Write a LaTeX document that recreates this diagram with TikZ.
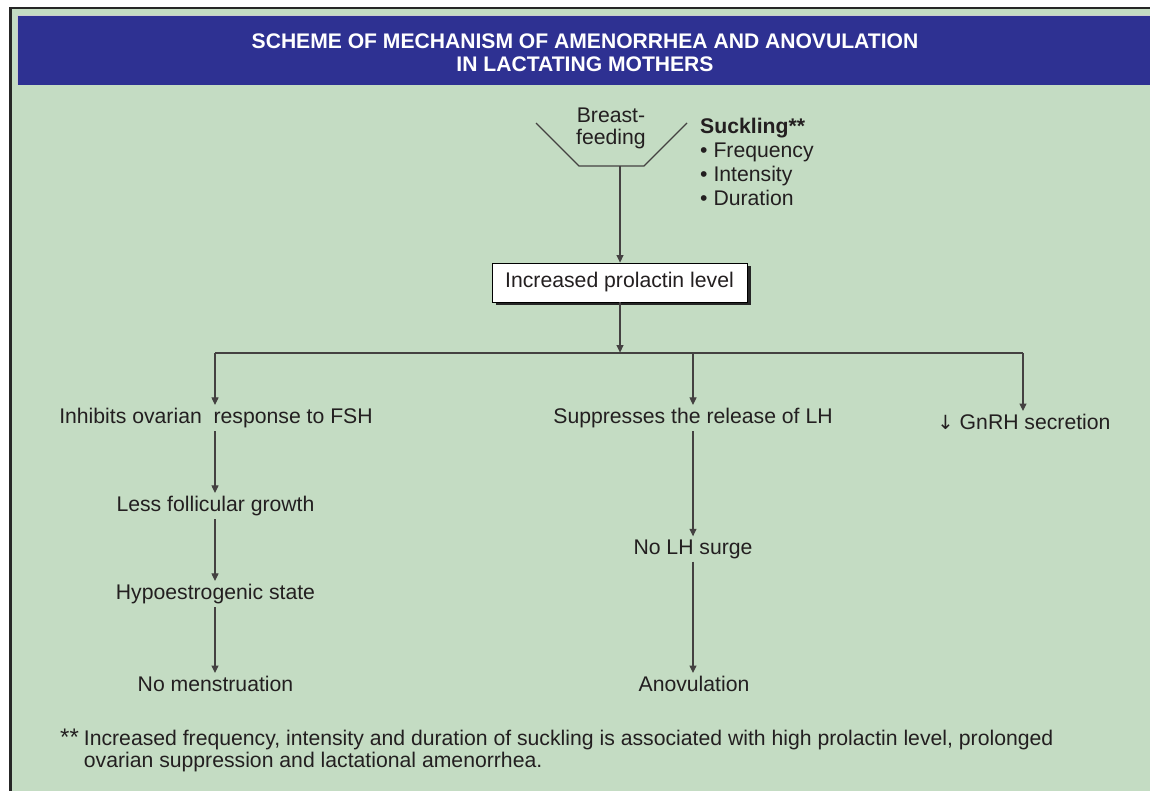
\documentclass[tikz,border=0pt]{standalone}
\usepackage{fontspec}
\setmainfont{Liberation Sans}
\newfontfamily\symfont{DejaVu Sans}
\usetikzlibrary{arrows.meta,shadows}
\definecolor{bggreen}{HTML}{C4DCC3}
\definecolor{hdrblue}{HTML}{2E3192}
\definecolor{ink}{HTML}{231F20}
\tikzset{
  txt/.style={text=ink,font=\fontsize{21.2}{23}\selectfont,inner sep=3pt,align=center},
  arr/.style={draw=ink!85,line width=1.1pt,-{Triangle[length=7.5pt,width=7pt]}},
  ln/.style={draw=ink!85,line width=1.1pt},
  pbox/.style={txt,draw=black,line width=0.8pt,fill=white,minimum width=255pt,minimum height=39pt,
    drop shadow={shadow xshift=3.5pt,shadow yshift=-3.5pt,fill=black!85,opacity=1}}
}
\begin{document}
\begin{tikzpicture}[x=1pt,y=-1pt]
\useasboundingbox (0,0) rectangle (1150,791);
% frame and background
\fill[white] (0,0) rectangle (1150,791);
\fill[bggreen] (10,8) rectangle (1160,800);
\draw[black!85,line width=2.2pt] (10.5,800) -- (10.5,8) -- (1160,8);
\fill[hdrblue] (17.5,15.5) rectangle (1160,85);
\draw[black!20,line width=0.6pt] (17.5,85) -- (17.5,15.5) -- (1160,15.5);
\node[font=\bfseries\fontsize{21.1}{23}\selectfont,text=white,align=center] (title) at (585,53)
  {SCHEME OF MECHANISM OF AMENORRHEA AND ANOVULATION\\IN LACTATING MOTHERS};
% funnel
\coordinate (f1) at (536,123);
\coordinate (f2) at (579,166);
\coordinate (fb) at (620,166);
\coordinate (f3) at (644,166);
\coordinate (f4) at (687,123);
\draw[ln] (f1) -- (f2) -- (f3) -- (f4);
\node[txt,font=\fontsize{21.2}{22}\selectfont] (bf) at (611,128) {Breast-\\feeding};
\node[txt,anchor=north west,align=left,font=\fontsize{21.2}{24}\selectfont] (suck) at (697,115)
  {\textbf{Suckling**}\\\textbullet\ Frequency\\\textbullet\ Intensity\\\textbullet\ Duration};
% prolactin box
\node[pbox] (pl) at (619.5,282.5) {Increased prolactin level};
\draw[arr] (fb) -- (pl.north -| fb);
% branch
\coordinate (j) at (620,353);
\coordinate (bl) at (215,353);
\coordinate (bm) at (693,353);
\coordinate (br) at (1023,353);
\draw[arr] (pl.south -| j) -- ([yshift=0.4pt]j);
\draw[ln] (bl) -- (br);
% left column
\node[txt] (inh) at (216,418) {Inhibits ovarian\ \ response to FSH};
\node[txt] (less) at (215.5,506) {Less follicular growth};
\node[txt] (hypo) at (215.5,594) {Hypoestrogenic state};
\node[txt] (nom) at (215.5,684) {No menstruation};
% middle column
\node[txt] (sup) at (693,418) {Suppresses the release of LH};
\node[txt] (nolh) at (693,549) {No LH surge};
\node[txt] (anov) at (694,684) {Anovulation};
% right
\node[txt] (gnrh) at (1024,422) {{\symfont\fontsize{19.5}{22}\selectfont ↓} GnRH secretion};
% arrows
\draw[arr] (bl) -- (bl |- inh.north);
\draw[arr] (bm) -- (bm |- sup.north);
\draw[arr] (br) -- (br |- gnrh.north);
\draw[arr] (inh.south -| bl) -- (less.north -| bl);
\draw[arr] (less.south -| bl) -- (hypo.north -| bl);
\draw[arr] (hypo.south -| bl) -- (nom.north -| bl);
\draw[arr] (sup.south -| bm) -- (nolh.north -| bm);
\draw[arr] (nolh.south -| bm) -- (anov.north -| bm);
% footnote
\node[txt,anchor=north west,align=left,inner sep=0pt] (fn) at (60,729)
  {\renewcommand{\arraystretch}{0.96}%
   \begin{tabular}{@{}l@{\hspace{5pt}}l@{}}
   {\fontsize{24}{22}\selectfont **} & Increased frequency, intensity and duration of suckling is associated with high prolactin level, prolonged\\
   & ovarian suppression and lactational amenorrhea.
   \end{tabular}};
\end{tikzpicture}
\end{document}
